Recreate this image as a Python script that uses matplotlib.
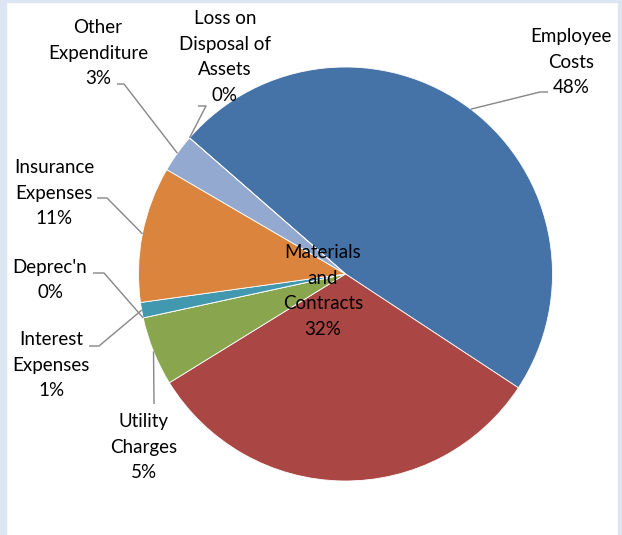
import matplotlib
matplotlib.use("Agg")
import matplotlib.pyplot as plt
import numpy as np
from matplotlib.patches import Rectangle

categories = ["Employee\nCosts", "Materials\nand\nContracts", "Utility\nCharges",
              "Deprec'n", "Interest\nExpenses", "Insurance\nExpenses",
              "Other\nExpenditure", "Loss on\nDisposal of\nAssets"]
values = [47.8, 31.9, 5.4, 0.0, 1.2, 10.6, 3.0, 0.0]
colors = ["#4572A7", "#AA4643", "#89A54E", "#71588F", "#4198AF", "#DB843D",
          "#93A9CF", "#D19392"]

W, H = 622, 535
fig = plt.figure(figsize=(W / 100, H / 100), dpi=100)
fig.patch.set_facecolor("white")
ax = fig.add_axes([0, 0, 1, 1])

frame = "#DCE6F2"
fig.patches.append(Rectangle((0, 0), 6 / W, 1, transform=fig.transFigure, color=frame, zorder=0))
fig.patches.append(Rectangle((0, 1 - 2 / H), 1, 2 / H, transform=fig.transFigure, color=frame, zorder=0))
fig.patches.append(Rectangle((1 - 4 / W, 0), 4 / W, 1, transform=fig.transFigure, color=frame, zorder=0))

cx, cy, R = 345.5, H - 274, 207
wedges, _ = ax.pie(values, colors=colors, startangle=138.9, counterclock=False,
                   center=(cx, cy), radius=R, frame=True,
                   wedgeprops=dict(edgecolor="white", linewidth=0.6))
ax.set_xlim(0, W)
ax.set_ylim(0, H)
ax.set_aspect("equal")
ax.axis("off")

total = sum(values)
font = dict(family=["Lato", "DejaVu Sans"], fontsize=13.5, color="#000000")

# label layout: (text center x, text center y [px from top]), leader path points [px from top]
layout = {
    0: dict(xy=(571, 62), path=[(548, 92), (540, 92)]),
    1: dict(xy=(323, 291), path=None),
    2: dict(xy=(144, 447), path=[(154, 404)]),
    3: dict(xy=(50, 280), path=[(93, 273), (104, 273)]),
    4: dict(xy=(51, 365), path=[(89, 346), (99, 346)]),
    5: dict(xy=(54, 193), path=[(97, 198), (107, 198)]),
    6: dict(xy=(98, 53), path=[(117, 84), (124, 84)]),
    7: dict(xy=(225, 57), path=[(198, 106), (206, 106)]),
}
for i, w in enumerate(wedges):
    pct = values[i] / total * 100
    txt = f"{categories[i]}\n{pct:.0f}%"
    lx, ly = layout[i]["xy"]
    ax.text(lx, H - ly, txt, ha="center", va="center", linespacing=1.62, **font)
    path = layout[i]["path"]
    if path:
        mid = np.deg2rad((w.theta1 + w.theta2) / 2)
        ex, ey = cx + R * np.cos(mid), cy + R * np.sin(mid)
        pts = [(px, H - py) for px, py in path] + [(ex, ey)]
        xs, ys = zip(*pts)
        ax.plot(xs, ys, color="#868686", linewidth=1.0, solid_capstyle="butt")

fig.savefig("out.png", dpi=100, facecolor=fig.get_facecolor())
